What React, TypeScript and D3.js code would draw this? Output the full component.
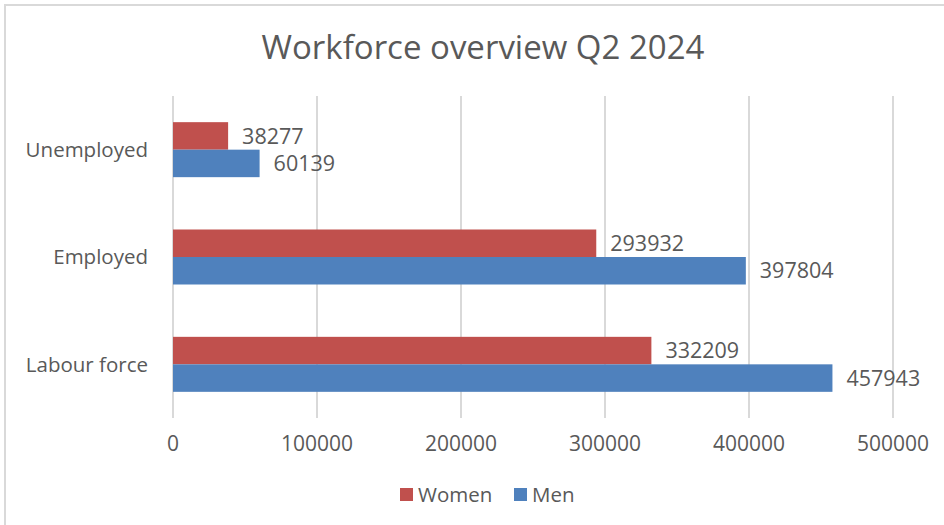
import React from "react";
import * as d3 from "d3";

const categories = ["Unemployed", "Employed", "Labour force"];
const seriesNames = ["Women", "Men"];
const womenValues = [38277, 293932, 332209];
const menValues = [60139, 397804, 457943];
const tickValues = [0, 100000, 200000, 300000, 400000, 500000];
const colors = ["#C0504D", "#4F81BD"];
const title = "Workforce overview Q2 2024";

const W = 944;
const H = 525;
const FONT = "'Open Sans', sans-serif";
const TEXT = "#595959";
const GRID = "#D9D9D9";

export default function App() {
  const plotLeft = 173;
  const plotRight = 893;
  const plotTop = 96;
  const plotBottom = 418;

  const x = d3.scaleLinear().domain([0, 500000]).range([plotLeft, plotRight]);
  const y = d3
    .scaleBand<string>()
    .domain(categories)
    .range([plotTop, plotBottom])
    .paddingInner(0.4876)
    .paddingOuter(0.4876 / 2);
  const ySub = d3.scaleBand<string>().domain(seriesNames).range([0, y.bandwidth()]);

  const series = [womenValues, menValues];

  return (
    <svg
      width={W}
      height={H}
      style={{ position: "absolute", left: 0, top: 0, background: "#fff" }}
      fontFamily={FONT}
    >
      <rect x={0} y={0} width={W} height={H} fill="#fff" />
      <rect x={5} y={5} width={W + 10} height={H + 10} fill="none" stroke={GRID} strokeWidth={2} />
      <text x={483} y={58.5} textAnchor="middle" fontSize={33} fill={TEXT}>
        {title}
      </text>
      {tickValues.map((t) => (
        <g key={t}>
          <line x1={x(t)} x2={x(t)} y1={plotTop} y2={plotBottom} stroke={GRID} strokeWidth={2} />
          <text x={x(t)} y={451} textAnchor="middle" fontSize={21} fill={TEXT}>
            {t}
          </text>
        </g>
      ))}
      {categories.map((c, i) => (
        <g key={c}>
          <text
            x={plotLeft - 25}
            y={(y(c) as number) + y.bandwidth() / 2}
            dy="0.36em"
            textAnchor="end"
            fontSize={20.5}
            fill={TEXT}
          >
            {c}
          </text>
          {seriesNames.map((s, j) => {
            const v = series[j][i];
            const by = (y(c) as number) + (ySub(s) as number);
            return (
              <g key={s}>
                <rect
                  x={x(0)}
                  y={by}
                  width={x(v) - x(0)}
                  height={ySub.bandwidth()}
                  fill={colors[j]}
                />
                <text
                  x={x(v) + 14}
                  y={by + ySub.bandwidth() / 2}
                  dy="0.36em"
                  fontSize={21.5}
                  fill={TEXT}
                >
                  {v}
                </text>
              </g>
            );
          })}
        </g>
      ))}
      {/* legend */}
      <g>
        <rect x={400} y={488} width={13} height={13} fill={colors[0]} />
        <text x={418} y={494.5} dy="0.36em" fontSize={20.5} fill={TEXT}>
          {seriesNames[0]}
        </text>
        <rect x={514} y={488} width={13} height={13} fill={colors[1]} />
        <text x={532} y={494.5} dy="0.36em" fontSize={20.5} fill={TEXT}>
          {seriesNames[1]}
        </text>
      </g>
    </svg>
  );
}
